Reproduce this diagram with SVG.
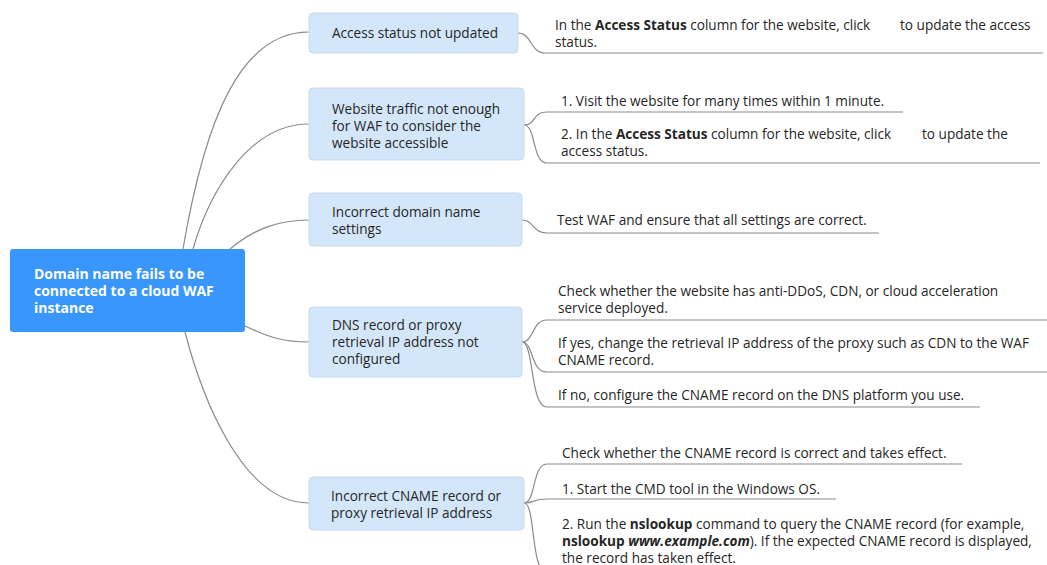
<svg xmlns="http://www.w3.org/2000/svg" width="1047" height="565" viewBox="0 0 1047 565">
<style>
.t{font-family:"Open Sans","Noto Sans","Liberation Sans",sans-serif;font-size:13.6px;fill:#262626}
.r{font-family:"Open Sans","Noto Sans","Liberation Sans",sans-serif;font-size:14px;font-weight:bold;fill:#ffffff}
.b{font-weight:bold}
.bi{font-weight:bold;font-style:italic}
.box{fill:#D4E6F9;stroke:#C6D9EE;stroke-width:1}
.c{fill:none;stroke:#8a8a8a;stroke-width:1.2}
</style>
<rect width="1047" height="565" fill="#ffffff"/>
<g id="connectors">
<path class="c" d="M183,249 C205,120 240,32 309,32"/>
<path class="c" d="M193,249 C210,190 250,124 309,124"/>
<path class="c" d="M230,249 C255,228 280,220 309,220"/>
<path class="c" d="M245,326 C270,338 285,342 309,342"/>
<path class="c" d="M185,332 C200,390 240,503 309,503"/>
<path class="c" d="M518,33 C532,33 530,53 545,53 H1043"/>
<path class="c" d="M524,125 C536,125 532,112 547,112 H903"/>
<path class="c" d="M524,125 C536,125 532,163 547,163 H1040"/>
<path class="c" d="M522,220 C534,220 532,233 547,233 H879"/>
<path class="c" d="M522,342 C534,342 532,320 547,320 H1047"/>
<path class="c" d="M522,342 C534,342 530,372 547,372 H1047"/>
<path class="c" d="M522,342 C534,342 530,407 547,407 H980"/>
<path class="c" d="M524,503 C536,503 532,464 547,464 H962"/>
<path class="c" d="M524,503 C536,503 532,499 547,499 H836"/>
<path class="c" d="M524,503 C536,503 530,572 547,572 H1047"/>
</g>
<g id="root">
<rect x="10" y="249" width="235" height="83" rx="3" fill="#3896FD"/>
<text class="r" x="34" y="279">Domain name fails to be</text>
<text class="r" x="34" y="296">connected to a cloud WAF</text>
<text class="r" x="34" y="313">instance</text>
</g>
<g id="n1">
<rect class="box" x="309" y="13" width="209" height="40" rx="4"/>
<text class="t" x="332" y="38">Access status not updated</text>
</g>
<g id="n1a">
<text class="t" x="555" y="30">In the <tspan class="b">Access Status</tspan> column for the website, click</text>
<text class="t" x="900" y="30">to update the access</text>
<text class="t" x="555" y="47">status.</text>
</g>
<g id="n2">
<rect class="box" x="309" y="88" width="215" height="72" rx="4"/>
<text class="t" x="332" y="114">Website traffic not enough</text>
<text class="t" x="332" y="131">for WAF to consider the</text>
<text class="t" x="332" y="148">website accessible</text>
</g>
<g id="n2a">
<text class="t" x="561" y="106">1. Visit the website for many times within 1 minute.</text>
</g>
<g id="n2b">
<text class="t" x="561" y="139">2. In the <tspan class="b">Access Status</tspan> column for the website, click</text>
<text class="t" x="922" y="139">to update the</text>
<text class="t" x="561" y="156">access status.</text>
</g>
<g id="n3">
<rect class="box" x="309" y="193" width="213" height="53" rx="4"/>
<text class="t" x="332" y="217">Incorrect domain name</text>
<text class="t" x="332" y="234">settings</text>
</g>
<g id="n3a">
<text class="t" x="557" y="225">Test WAF and ensure that all settings are correct.</text>
</g>
<g id="n4">
<rect class="box" x="309" y="307" width="213" height="70" rx="4"/>
<text class="t" x="332" y="330">DNS record or proxy</text>
<text class="t" x="332" y="347">retrieval IP address not</text>
<text class="t" x="332" y="364">configured</text>
</g>
<g id="n4a">
<text class="t" x="558" y="296">Check whether the website has anti-DDoS, CDN, or cloud acceleration</text>
<text class="t" x="558" y="313">service deployed.</text>
</g>
<g id="n4b">
<text class="t" x="558" y="348">If yes, change the retrieval IP address of the proxy such as CDN to the WAF</text>
<text class="t" x="558" y="365">CNAME record.</text>
</g>
<g id="n4c">
<text class="t" x="558" y="400">If no, configure the CNAME record on the DNS platform you use.</text>
</g>
<g id="n5">
<rect class="box" x="309" y="477" width="215" height="53" rx="4"/>
<text class="t" x="331" y="501">Incorrect CNAME record or</text>
<text class="t" x="331" y="518">proxy retrieval IP address</text>
</g>
<g id="n5a">
<text class="t" x="562" y="458">Check whether the CNAME record is correct and takes effect.</text>
</g>
<g id="n5b">
<text class="t" x="562" y="494">1. Start the CMD tool in the Windows OS.</text>
</g>
<g id="n5c">
<text class="t" x="562" y="529">2. Run the <tspan class="b">nslookup</tspan> command to query the CNAME record (for example,</text>
<text class="t" x="562" y="546"><tspan class="b">nslookup</tspan> <tspan class="bi">www.example.com</tspan>). If the expected CNAME record is displayed,</text>
<text class="t" x="562" y="563">the record has taken effect.</text>
</g>
</svg>
